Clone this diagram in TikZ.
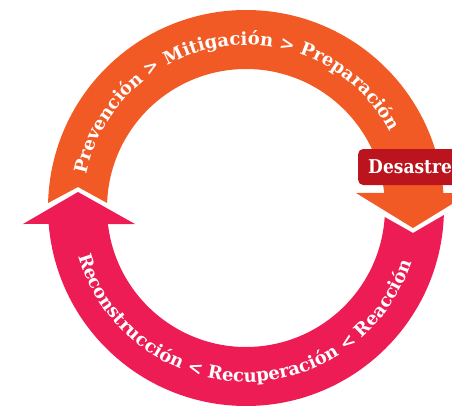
\documentclass[tikz,border=0pt]{standalone}
\usepackage{fontspec}
\newfontfamily\slab{DejaVu Serif}
\newfontfamily\slabc{DejaVu Serif Condensed}
\usetikzlibrary{decorations.text}
\definecolor{orng}{HTML}{F15A24}
\definecolor{pnk}{HTML}{ED1C55}
\definecolor{dred}{HTML}{BC141F}
\tikzset{
  ringtext/.style={decorate,decoration={text along path,text align=center,text color=white,text={|\slab\bfseries\fontsize{18}{18}\selectfont|#1}}},
  labelbox/.style={fill=dred,rounded corners=5pt,minimum height=36pt,inner xsep=10pt,anchor=west,text=white,font=\slabc\bfseries\fontsize{19}{19}\selectfont}
}
\begin{document}
\begin{tikzpicture}[x=1pt,y=1pt]
\useasboundingbox (0,0) rectangle (452,405);
\begin{scope}[shift={(246,197)}]
% orange arrow (top)
\fill[orng] (178.55:198) arc[start angle=178.55,end angle=4.34,radius=198]
  -- (224,15) -- (167,-20) -- (110,15) -- (6.2:139)
  arc[start angle=6.2,end angle=177.94,radius=139] -- (-168,21) -- cycle;
% pink arrow (bottom)
\fill[pnk] (-223,-16) -- (-168,16) -- (-111,-16) -- (186.61:139)
  arc[start angle=186.61,end angle=356.29,radius=139] -- (167,-25) -- (357.97:198)
  arc[start angle=357.97,end angle=184.63,radius=198] -- cycle;
% texts
\path[ringtext={Prevención > Mitigación > Preparación}] (172:163) arc[start angle=172,end angle=24,radius=163];
\path[ringtext={Reconstrucción < Recuperación < Reacción}] (192:174) arc[start angle=192,end angle=346,radius=174];
\node[labelbox] (desastre) at (112,41) {Desastre};
\end{scope}
\end{tikzpicture}
\end{document}
